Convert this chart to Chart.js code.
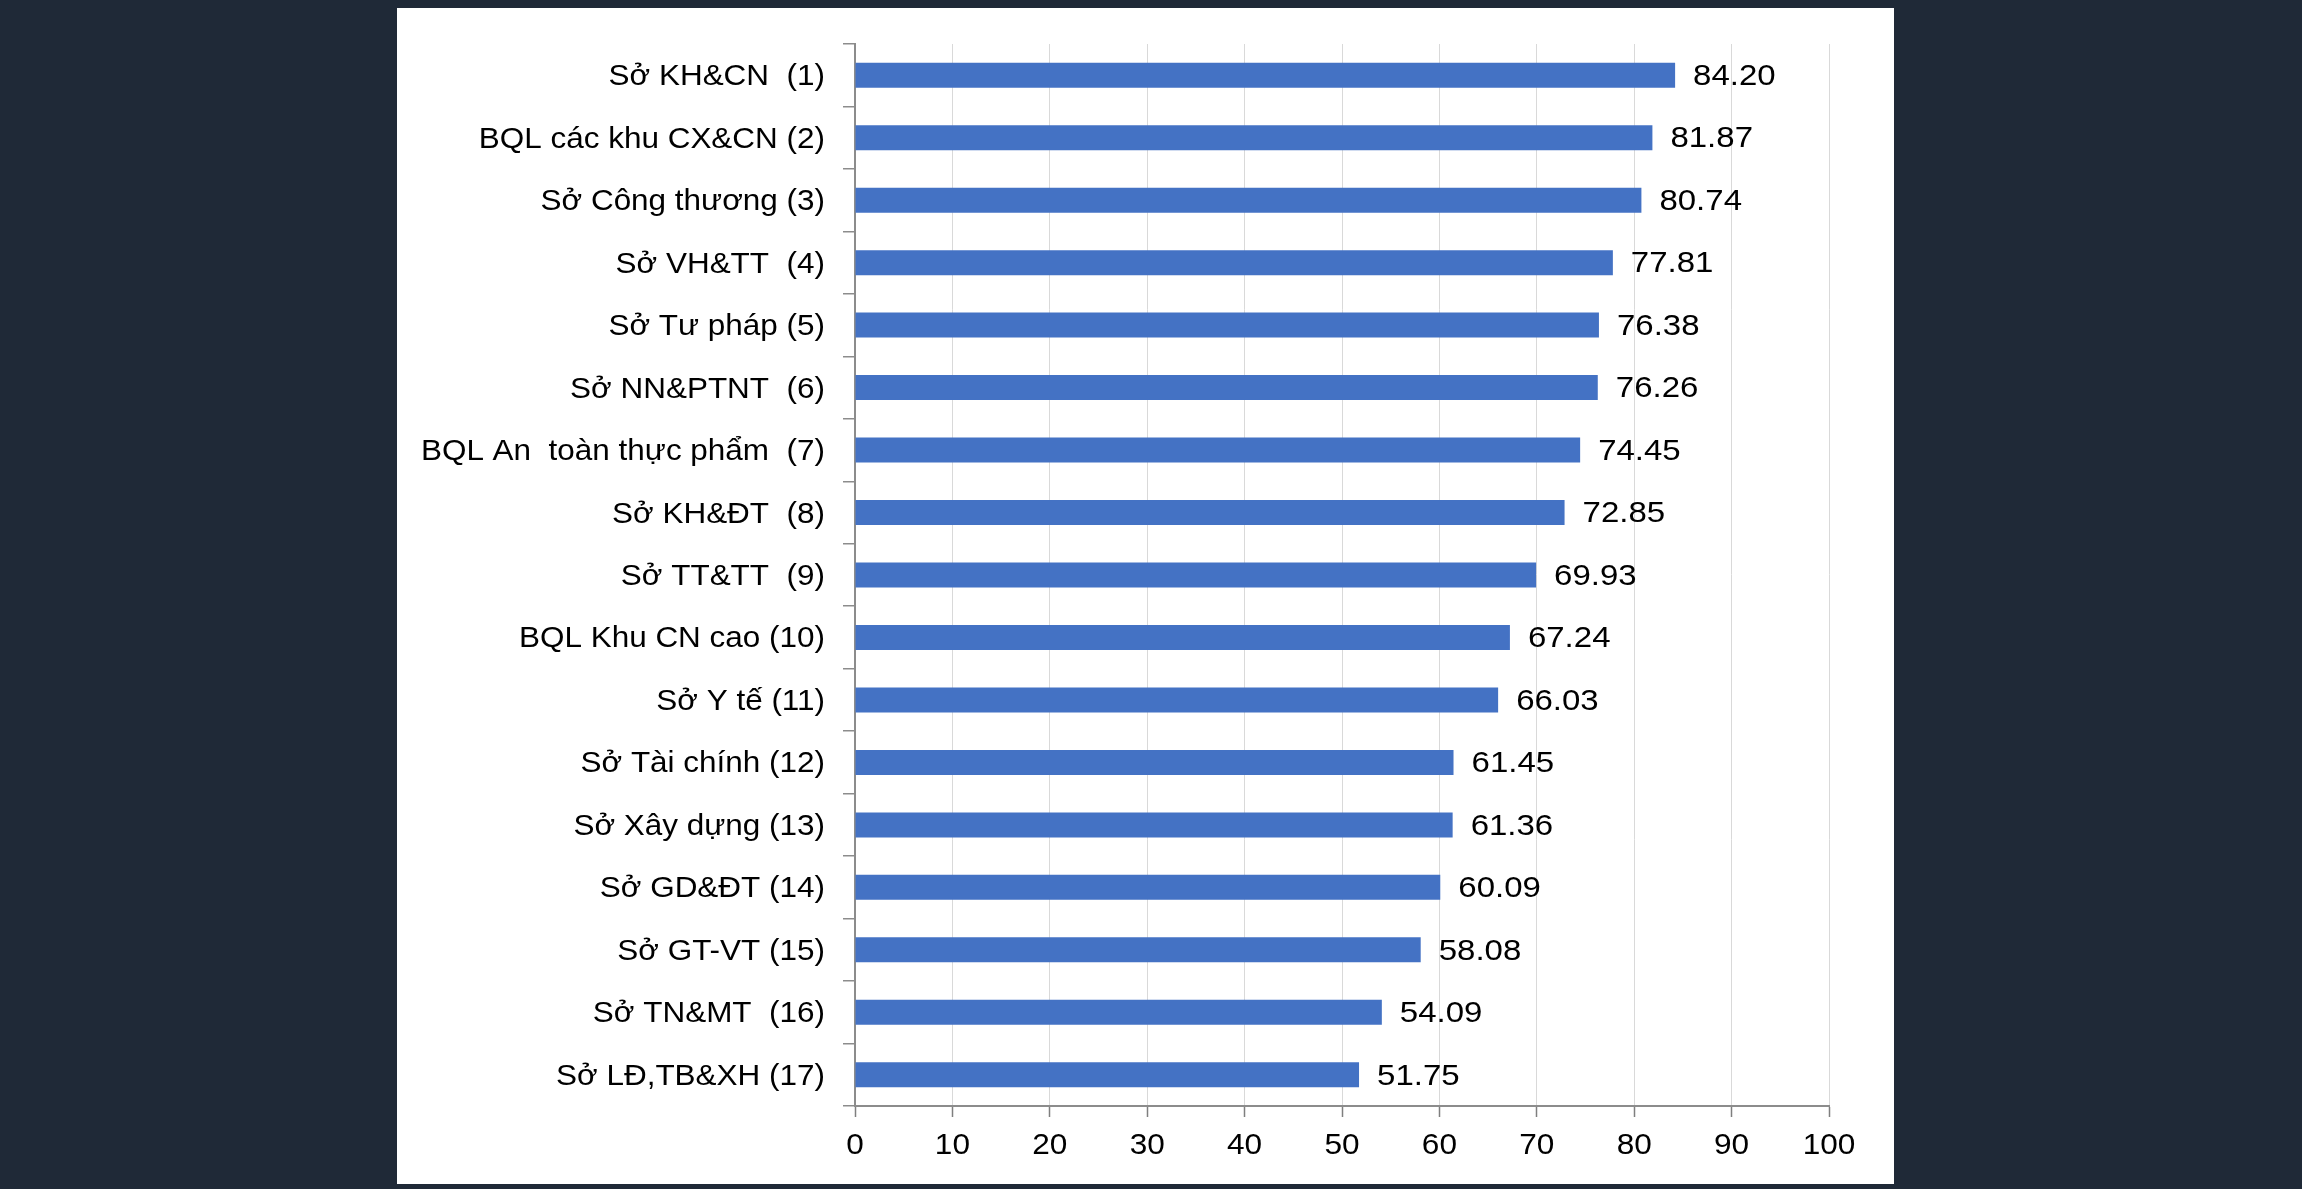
<!DOCTYPE html>
<html>
<head>
<meta charset="utf-8">
<script src="https://cdn.jsdelivr.net/npm/chart.js@4.4.1/dist/chart.umd.min.js"></script>
<style>
  html, body { margin: 0; padding: 0; background: #1f2937; width: 2302px; height: 1189px; overflow: hidden; }
  #panel { position: absolute; left: 397px; top: 8px; width: 1497px; height: 1176px; background: #ffffff; }
  #c { display: block; }
</style>
</head>
<body>
<div id="panel"><canvas id="c" width="1497" height="1176"></canvas></div>
<script>
const categories = [
  "Sở KH&CN  (1)",
  "BQL các khu CX&CN (2)",
  "Sở Công thương (3)",
  "Sở VH&TT  (4)",
  "Sở Tư pháp (5)",
  "Sở NN&PTNT  (6)",
  "BQL An  toàn thực phẩm  (7)",
  "Sở KH&ĐT  (8)",
  "Sở TT&TT  (9)",
  "BQL Khu CN cao (10)",
  "Sở Y tế (11)",
  "Sở Tài chính (12)",
  "Sở Xây dựng (13)",
  "Sở GD&ĐT (14)",
  "Sở GT-VT (15)",
  "Sở TN&MT  (16)",
  "Sở LĐ,TB&XH (17)"
];
const scores = [84.20, 81.87, 80.74, 77.81, 76.38, 76.26, 74.45, 72.85, 69.93, 67.24, 66.03, 61.45, 61.36, 60.09, 58.08, 54.09, 51.75];
const xTicks = [0, 10, 20, 30, 40, 50, 60, 70, 80, 90, 100];

const FONT = "'Liberation Sans', Arial, sans-serif";

function stretchedText(ctx, text, x, y, size, sx, align) {
  ctx.save();
  ctx.font = size + "px " + FONT;
  ctx.fillStyle = "#000000";
  ctx.textAlign = align;
  ctx.textBaseline = "middle";
  ctx.translate(x, y);
  ctx.scale(sx, 1);
  ctx.fillText(text, 0, 0);
  ctx.restore();
}

const textLayer = {
  id: 'textLayer',
  afterDraw(chart) {
    const ctx = chart.ctx;
    const meta = chart.getDatasetMeta(0);
    const xs = chart.scales.x;
    const ys = chart.scales.y;
    // category labels
    categories.forEach((lab, i) => {
      const y = ys.getPixelForValue(i);
      stretchedText(ctx, lab, ys.right - 30, y + 2, 29, 1.085, 'right');
    });
    // value labels
    meta.data.forEach((bar, i) => {
      stretchedText(ctx, scores[i].toFixed(2), bar.x + 18, bar.y + 1.5, 30, 1.1, 'left');
    });
    // x tick labels
    xTicks.forEach(v => {
      stretchedText(ctx, String(v), xs.getPixelForValue(v), xs.top + 40, 29.5, 1.07, 'center');
    });
  }
};

new Chart(document.getElementById('c'), {
  type: 'bar',
  data: {
    labels: categories,
    datasets: [{
      data: scores,
      backgroundColor: '#4472c4',
      borderWidth: 0,
      categoryPercentage: 0.8,
      barPercentage: 0.5
    }]
  },
  options: {
    indexAxis: 'y',
    responsive: false,
    animation: false,
    events: [],
    layout: { padding: { left: 0, top: 36, right: 65, bottom: 0 } },
    plugins: { legend: { display: false }, tooltip: { enabled: false } },
    scales: {
      x: {
        min: 0, max: 100,
        afterBuildTicks(scale) { scale.ticks = xTicks.map(v => ({ value: v })); },
        afterFit(scale) { scale.height = 78; },
        grid: { color: '#d9d9d9', lineWidth: 1, tickLength: 11, tickColor: '#7f7f7f', tickWidth: 1.5 },
        border: { color: '#8c8c8c', width: 2 },
        ticks: { display: false }
      },
      y: {
        afterFit(scale) { scale.width = 458; },
        grid: { drawOnChartArea: false, tickLength: 12, color: '#8c8c8c', lineWidth: 1.5, offset: true },
        border: { color: '#8c8c8c', width: 2 },
        ticks: { display: false, autoSkip: false }
      }
    }
  },
  plugins: [textLayer]
});
</script>
</body>
</html>
